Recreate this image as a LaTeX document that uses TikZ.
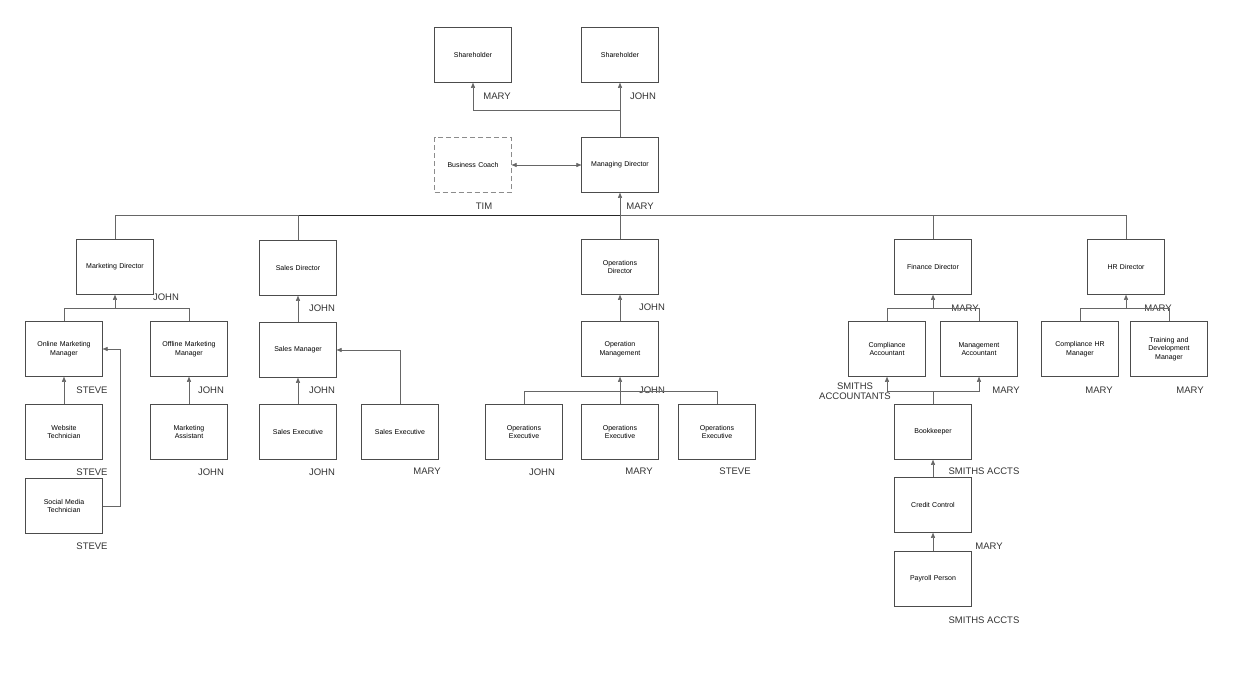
\documentclass[tikz,border=0pt]{standalone}
\usepackage{fontspec}
\setmainfont{Liberation Sans}
\usetikzlibrary{arrows.meta}
\begin{document}
\begin{tikzpicture}[x=1pt,y=-1pt,
  box/.style={draw=black!70,line width=0.5pt,minimum width=74pt,minimum height=55pt,align=center,font=\fontsize{7}{8.5}\selectfont,text width=70pt},
  lbl/.style={font=\fontsize{9.5}{10.5}\selectfont,text=black!80,inner sep=0pt,align=center},
  con/.style={draw=black!60,line width=0.5pt},
  arr/.style={con,-{Triangle[length=5pt,width=4pt]}}]
\useasboundingbox (0,0) rectangle (1236,680);
\node[box] (sh1) at (473,55) {Shareholder};
\node[box] (sh2) at (620,55) {Shareholder};
\node[box,dashed,draw=black!45,dash pattern=on 5pt off 3pt] (bc) at (473,165) {Business Coach};
\node[box] (md) at (620,165) {Managing Director};
\node[box] (mkd) at (115,267) {Marketing Director};
\node[box] (sd) at (298,268) {Sales Director};
\node[box] (od) at (620,267) {Operations\\Director};
\node[box] (fd) at (933,267) {Finance Director};
\node[box] (hrd) at (1126,267) {HR Director};
\node[box] (omm) at (64,349) {Online Marketing\\Manager};
\node[box] (ofm) at (189,349) {Offline Marketing\\Manager};
\node[box] (sm) at (298,350) {Sales Manager};
\node[box] (om) at (620,349) {Operation\\Management};
\node[box] (ca) at (887,349) {Compliance\\Accountant};
\node[box] (mac) at (979,349) {Management\\Accountant};
\node[box] (chr) at (1080,349) {Compliance HR\\Manager};
\node[box] (tdm) at (1169,349) {Training and\\Development\\Manager};
\node[box] (wt) at (64,432) {Website\\Technician};
\node[box] (ma) at (189,432) {Marketing\\Assistant};
\node[box] (se1) at (298,432) {Sales Executive};
\node[box] (se2) at (400,432) {Sales Executive};
\node[box] (oe1) at (524,432) {Operations\\Executive};
\node[box] (oe2) at (620,432) {Operations\\Executive};
\node[box] (oe3) at (717,432) {Operations\\Executive};
\node[box] (bk) at (933,432) {Bookkeeper};
\node[box] (smt) at (64,506) {Social Media\\Technician};
\node[box] (cc) at (933,505) {Credit Control};
\node[box] (pp) at (933,579) {Payroll Person};
% labels
\node[lbl] (l1) at (497,96) {MARY};
\node[lbl] (l2) at (643,96) {JOHN};
\node[lbl] (l3) at (484,206) {TIM};
\node[lbl] (l4) at (640,206) {MARY};
\node[lbl] (l5) at (166,297) {JOHN};
\node[lbl] (l6) at (322,308) {JOHN};
\node[lbl] (l7) at (652,307) {JOHN};
\node[lbl] (l8) at (965,308) {MARY};
\node[lbl] (l9) at (1158,308) {MARY};
\node[lbl] (l10) at (92,390) {STEVE};
\node[lbl] (l11) at (211,390) {JOHN};
\node[lbl] (l12) at (322,390) {JOHN};
\node[lbl] (l13) at (652,390) {JOHN};
\node[lbl] (l14) at (855,391) {SMITHS\\ACCOUNTANTS};
\node[lbl] (l15) at (1006,390) {MARY};
\node[lbl] (l16) at (1099,390) {MARY};
\node[lbl] (l17) at (1190,390) {MARY};
\node[lbl] (l18) at (92,472) {STEVE};
\node[lbl] (l19) at (211,472) {JOHN};
\node[lbl] (l20) at (322,472) {JOHN};
\node[lbl] (l21) at (427,471) {MARY};
\node[lbl] (l22) at (542,472) {JOHN};
\node[lbl] (l23) at (639,471) {MARY};
\node[lbl] (l24) at (735,471) {STEVE};
\node[lbl] (l25) at (984,471) {SMITHS ACCTS};
\node[lbl] (l26) at (92,546) {STEVE};
\node[lbl] (l27) at (989,546) {MARY};
\node[lbl] (l28) at (984,620) {SMITHS ACCTS};
% top connectors
\draw[arr] (md.north) -- (sh2.south);
\draw[arr] (620,110) -| (sh1.south);
\draw[con,{Triangle[length=5pt,width=4pt]}-{Triangle[length=5pt,width=4pt]}] (bc.east) -- (md.west);
\draw[arr] (od.north) -- (md.south);
\draw[con] (mkd.north) |- (1126,215) -- (hrd.north);
\draw[line width=0.9pt,black!85] (298,215) -- (620,215);
\draw[con] (sd.north) -- (298,215);
\draw[con] (fd.north) -- (933,215);
% marketing
\draw[con] (omm.north) |- (ofm.north |- 0,308) -- (ofm.north);
\draw[arr] (115,308) -- (mkd.south);
\draw[arr] (wt.north) -- (omm.south);
\draw[arr] (smt.east) -- (120,506) |- (omm.east);
\draw[arr] (ma.north) -- (ofm.south);
% sales
\draw[arr] (sm.north) -- (sd.south);
\draw[arr] (se1.north) -- (sm.south);
\draw[arr] (se2.north) |- (sm.east);
% operations
\draw[arr] (om.north) -- (od.south);
\draw[con] (oe1.north) |- (oe3.north |- 0,391) -- (oe3.north);
\draw[arr] (oe2.north) -- (om.south);
% finance
\draw[con] (ca.north) |- (mac.north |- 0,308) -- (mac.north);
\draw[arr] (933,308) -- (fd.south);
\draw[con] (bk.north) -- (933,391);
\draw[arr] (933,391) -| (ca.south);
\draw[arr] (933,391) -| (mac.south);
\draw[arr] (cc.north) -- (bk.south);
\draw[arr] (pp.north) -- (cc.south);
% HR
\draw[con] (chr.north) |- (tdm.north |- 0,308) -- (tdm.north);
\draw[arr] (1126,308) -- (hrd.south);
\end{tikzpicture}
\end{document}
